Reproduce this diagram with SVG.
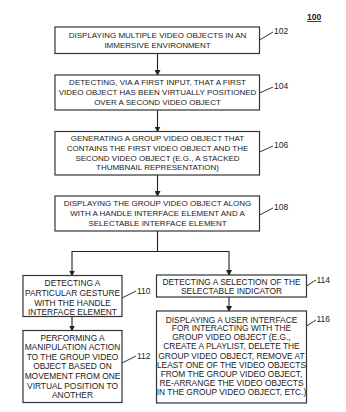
<svg xmlns="http://www.w3.org/2000/svg" width="346" height="412" viewBox="0 0 346 412">
<defs>
<style>
.box{fill:#fff;stroke:#333;stroke-width:1.2}
.t{font-family:"Liberation Sans",Arial,sans-serif;font-size:8px;fill:#222;text-anchor:middle}
.s{font-size:8.4px}
.lb{font-family:"Liberation Sans",Arial,sans-serif;font-size:8.5px;fill:#222}
.ld{fill:none;stroke:#333;stroke-width:1}
.c{fill:none;stroke:#222;stroke-width:1.1}
</style>
<marker id="ah" markerWidth="6" markerHeight="6" refX="5" refY="3" orient="auto" markerUnits="userSpaceOnUse">
<path d="M0,0 L6,3 L0,6 Z" fill="#222"/>
</marker>
</defs>
<rect width="346" height="412" fill="#fff"/>
<text x="307" y="20" class="lb" font-weight="bold" text-decoration="underline">100</text>

<g id="connectors">
<line class="c" x1="157.5" y1="53.5" x2="157.5" y2="75" marker-end="url(#ah)"/>
<line class="c" x1="157.5" y1="110" x2="157.5" y2="131.5" marker-end="url(#ah)"/>
<line class="c" x1="157.5" y1="175" x2="157.5" y2="196" marker-end="url(#ah)"/>
<polyline class="c" points="157.5,231 157.5,251.5 72,251.5 72,275.5" marker-end="url(#ah)"/>
<polyline class="c" points="157.5,251.5 229,251.5 229,275" marker-end="url(#ah)"/>
<line class="c" x1="72" y1="316.5" x2="72" y2="330.5" marker-end="url(#ah)"/>
<line class="c" x1="229" y1="297" x2="229" y2="311" marker-end="url(#ah)"/>
</g>

<g id="n102">
<rect class="box" x="55" y="27" width="204.5" height="26.5"/>
<text class="t" x="157.5" y="38">DISPLAYING MULTIPLE VIDEO OBJECTS IN AN</text>
<text class="t" x="157.5" y="48">IMMERSIVE ENVIRONMENT</text>
<path class="ld" d="M259.5,40 L273,32"/>
<text class="lb" x="274" y="34">102</text>
</g>

<g id="n104">
<rect class="box" x="55" y="75" width="204.5" height="35"/>
<text class="t" x="157.5" y="84.5">DETECTING, VIA A FIRST INPUT, THAT A FIRST</text>
<text class="t" x="157.5" y="94.5">VIDEO OBJECT HAS BEEN VIRTUALLY POSITIONED</text>
<text class="t" x="157.5" y="104.5">OVER A SECOND VIDEO OBJECT</text>
<path class="ld" d="M259.5,93 L273,87"/>
<text class="lb" x="274" y="89">104</text>
</g>

<g id="n106">
<rect class="box" x="55" y="131.5" width="204.5" height="43.5"/>
<text class="t" x="157.5" y="140.5">GENERATING A GROUP VIDEO OBJECT THAT</text>
<text class="t" x="157.5" y="150.5">CONTAINS THE FIRST VIDEO OBJECT AND THE</text>
<text class="t" x="157.5" y="160.5">SECOND VIDEO OBJECT (E.G., A STACKED</text>
<text class="t" x="157.5" y="170.2">THUMBNAIL REPRESENTATION)</text>
<path class="ld" d="M259.5,152 L273,146"/>
<text class="lb" x="274" y="148">106</text>
</g>

<g id="n108">
<rect class="box" x="55" y="196" width="204.5" height="35"/>
<text class="t" x="157.5" y="206.3">DISPLAYING THE GROUP VIDEO OBJECT ALONG</text>
<text class="t" x="157.5" y="216.3">WITH A HANDLE INTERFACE ELEMENT AND A</text>
<text class="t" x="157.5" y="225.8">SELECTABLE INTERFACE ELEMENT</text>
<path class="ld" d="M259.5,215 L273,208"/>
<text class="lb" x="274" y="210">108</text>
</g>

<g id="n110">
<rect class="box" x="23" y="275.5" width="99" height="41"/>
<text class="t s" x="72.5" y="286.3">DETECTING A</text>
<text class="t s" x="72.5" y="296">PARTICULAR GESTURE</text>
<text class="t s" x="72.5" y="305.5">WITH THE HANDLE</text>
<text class="t s" x="72.5" y="314.7">INTERFACE ELEMENT</text>
<path class="ld" d="M122,298 L136,291"/>
<text class="lb" x="137" y="294">110</text>
</g>

<g id="n112">
<rect class="box" x="23" y="330.5" width="99" height="72"/>
<text class="t s" x="72.5" y="341">PERFORMING A</text>
<text class="t s" x="72.5" y="350.4">MANIPULATION ACTION</text>
<text class="t s" x="72.5" y="360">TO THE GROUP VIDEO</text>
<text class="t s" x="72.5" y="369.4">OBJECT BASED ON</text>
<text class="t s" x="72.5" y="379.2">MOVEMENT FROM ONE</text>
<text class="t s" x="72.5" y="388.7">VIRTUAL POSITION TO</text>
<text class="t s" x="72.5" y="398">ANOTHER</text>
<path class="ld" d="M122,363 L136,356"/>
<text class="lb" x="137" y="359">112</text>
</g>

<g id="n114">
<rect class="box" x="156.5" y="275" width="150" height="22"/>
<text class="t s" x="231.5" y="284.5">DETECTING A SELECTION OF THE</text>
<text class="t s" x="231.5" y="293.7">SELECTABLE INDICATOR</text>
<path class="ld" d="M306.5,286 L316,280"/>
<text class="lb" x="316.5" y="283">114</text>
</g>

<g id="n116">
<rect class="box" x="156.5" y="311" width="150" height="92"/>
<text class="t s" x="231.5" y="322.7">DISPLAYING A USER INTERFACE</text>
<text class="t s" x="231.5" y="331.2">FOR INTERACTING WITH THE</text>
<text class="t s" x="231.5" y="340.2">GROUP VIDEO OBJECT (E.G.,</text>
<text class="t s" x="231.5" y="349.4">CREATE A PLAYLIST, DELETE THE</text>
<text class="t s" x="231.5" y="358.7">GROUP VIDEO OBJECT, REMOVE AT</text>
<text class="t s" x="231.5" y="367.7">LEAST ONE OF THE VIDEO OBJECTS</text>
<text class="t s" x="231.5" y="376.7">FROM THE GROUP VIDEO OBJECT,</text>
<text class="t s" x="231.5" y="386">RE-ARRANGE THE VIDEO OBJECTS</text>
<text class="t s" x="231.5" y="395.4">IN THE GROUP VIDEO OBJECT, ETC.)</text>
<path class="ld" d="M306.5,326 L316,320"/>
<text class="lb" x="316.5" y="322">116</text>
</g>
</svg>
